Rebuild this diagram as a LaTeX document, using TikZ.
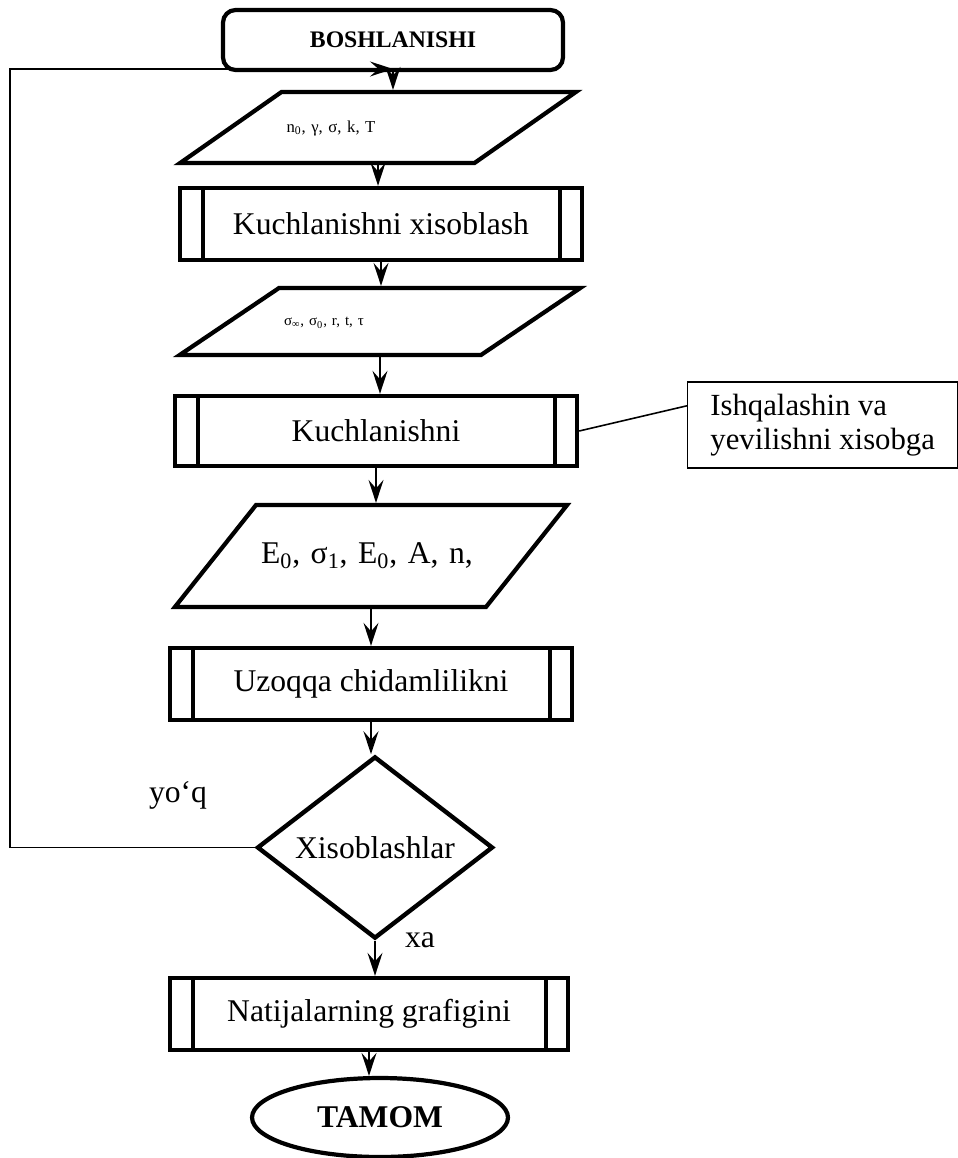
\documentclass[tikz,border=0pt]{standalone}
\usepackage{fontspec}
\setmainfont{Liberation Serif}
\usetikzlibrary{arrows.meta, shapes.geometric, calc}

\begin{document}
\begin{tikzpicture}[x=0.02cm, y=-0.02cm,
  every node/.style={font=\fontsize{18}{21}\selectfont},
  terminal/.style={draw, line width=2.4pt, rounded corners=0.25cm, minimum width=6.8cm, minimum height=1.2cm, inner sep=0pt},
  inout/.style={draw, line width=2.4pt, trapezium, align=left, inner xsep=0.1cm},
  subproc/.style={draw, line width=2.5pt, rectangle, minimum width=8.04cm, minimum height=1.44cm, inner sep=0pt,
    path picture={
      \draw[line width=2.5pt] ([xshift=0.46cm]path picture bounding box.north west) -- ([xshift=0.46cm]path picture bounding box.south west);
      \draw[line width=2.5pt] ([xshift=-0.44cm]path picture bounding box.north east) -- ([xshift=-0.44cm]path picture bounding box.south east);}},
  decision/.style={draw, diamond, line width=2.5pt, minimum width=4.72cm, minimum height=3.58cm, inner sep=0pt},
  notebox/.style={draw, line width=0.8pt, minimum width=5.4cm, minimum height=1.72cm, align=left, inner xsep=0.35cm, font=\fontsize{17.5}{19}\selectfont},
  arr/.style={-{Stealth[length=0.46cm, width=0.3cm, inset=0.17cm]}, line width=1.1pt}]

\useasboundingbox (0,0) rectangle (957,1158);

% === Blocks ===
\node[terminal, font=\fontsize{13.5}{16}\selectfont\bfseries] (start) at (393,40) {BOSHLANISHI};

\node[inout, trapezium left angle=35, trapezium right angle=145, text height=0.3cm, text depth=0.1cm, inner ysep=0.51cm,
      text width=3.66cm, font=\fontsize{9.5}{11}\selectfont] (in1) at (378,127.5) {n\textsubscript{0}, γ, σ, k, T};

\node[subproc] (calc1) at (381,224) {Kuchlanishni xisoblash};

\node[inout, trapezium left angle=34, trapezium right angle=146, text height=0.28cm, text depth=0.1cm, inner ysep=0.48cm,
      text width=3.84cm, font=\fontsize{8.5}{10}\selectfont] (in2) at (380,321.5) {σ\textsubscript{∞}, σ\textsubscript{0}, r, t, τ};

\node[subproc, minimum height=1.4cm] (calc2) at (376,431) {Kuchlanishni};

\node[notebox, anchor=west] (note) at (687,425) {Ishqalashin va\\yevilishni xisobga};

\node[inout, trapezium left angle=51.5, trapezium right angle=128.5, text height=0.45cm, text depth=0.15cm, inner ysep=0.72cm,
      text width=4.4cm] (in3) at (371,556) {E\textsubscript{0}, σ\textsubscript{1}, E\textsubscript{0}, A, n,};

\node[subproc] (calc3) at (371,684) {Uzoqqa chidamlilikni};

\node[decision] (check) at (375,847.5) {Xisoblashlar};
\node (no) at (178,795) {yo‘q};
\node (yes) at (420,940) {xa};

\node[subproc, minimum width=7.96cm] (plot) at (369,1014) {Natijalarning grafigini};

\node[draw, ellipse, line width=2.4pt, minimum width=5.12cm, minimum height=1.58cm,
      font=\fontsize{18}{21}\selectfont\bfseries] (finish) at (380,1117.5) {TAMOM};

% === Connectors ===
\draw[arr] (start.south) -- (start.south |- in1.north);
\draw[arr] (in1.center |- in1.south) -- (in1.center |- calc1.north);
\draw[arr] (calc1.south) -- (calc1.south |- in2.north);
\draw[arr] (in2.center |- in2.south) -- (in2.center |- calc2.north);
\draw[arr] (calc2.south) -- (calc2.south |- in3.north);
\draw[arr] (in3.center |- in3.south) -- (in3.center |- calc3.north);
\draw[arr] (calc3.south) -- (calc3.south |- check.north);
\draw[arr] (check.south) -- (check.south |- plot.north);
\draw[arr] (plot.south) -- (plot.south |- finish.north);

\draw[line width=0.9pt] (calc2.east) -- ($(note.north west)!0.28!(note.south west)$);

% loop back
\coordinate (back) at (10,69);
\draw[arr] (check.west) -| (back) -- (back -| start.south);

\end{tikzpicture}
\end{document}
